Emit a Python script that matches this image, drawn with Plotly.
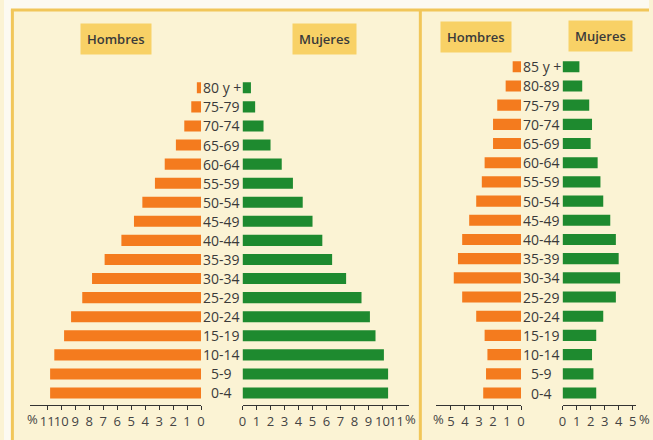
import plotly.graph_objects as go

W, H = 653, 440

# ---- data: left pyramid ----
ages_a = ["0-4", "5-9", "10-14", "15-19", "20-24", "25-29", "30-34", "35-39", "40-44",
          "45-49", "50-54", "55-59", "60-64", "65-69", "70-74", "75-79", "80 y +"]
men_a = [10.8, 10.8, 10.5, 9.8, 9.3, 8.5, 7.8, 6.9, 5.7, 4.8, 4.2, 3.3, 2.6, 1.8, 1.2, 0.7, 0.3]
women_a = [10.4, 10.4, 10.1, 9.5, 9.1, 8.5, 7.4, 6.4, 5.7, 5.0, 4.3, 3.6, 2.8, 2.0, 1.5, 0.9, 0.6]

# ---- data: right pyramid ----
ages_b = ["0-4", "5-9", "10-14", "15-19", "20-24", "25-29", "30-34", "35-39", "40-44",
          "45-49", "50-54", "55-59", "60-64", "65-69", "70-74", "75-79", "80-89", "85 y +"]
men_b = [2.7, 2.5, 2.4, 2.6, 3.2, 4.2, 4.8, 4.5, 4.2, 3.7, 3.2, 2.8, 2.6, 2.0, 2.0, 1.7, 1.1, 0.6]
women_b = [2.4, 2.2, 2.1, 2.4, 2.9, 3.8, 4.1, 4.0, 3.8, 3.4, 2.9, 2.7, 2.5, 2.0, 2.1, 1.9, 1.4, 1.2]

ticks_a = list(range(0, 12))
ticks_b = list(range(0, 6))

ORANGE = "#F47B1E"
GREEN = "#1E8A2F"
BG = "#FBF3D4"
FRAME = "#F1C659"
LABELBOX = "#F8D166"
TXT = "#3a3a3a"
FONT = "Open Sans"


def px(x):
    return x / W


def py(y):
    return 1 - y / H


fig = go.Figure()
fig.add_trace(go.Bar(x=men_a, y=ages_a, orientation="h", marker_color=ORANGE,
                     marker_line_width=0, xaxis="x", yaxis="y"))
fig.add_trace(go.Bar(x=women_a, y=ages_a, orientation="h", marker_color=GREEN,
                     marker_line_width=0, xaxis="x2", yaxis="y"))
fig.add_trace(go.Bar(x=men_b, y=ages_b, orientation="h", marker_color=ORANGE,
                     marker_line_width=0, xaxis="x3", yaxis="y2"))
fig.add_trace(go.Bar(x=women_b, y=ages_b, orientation="h", marker_color=GREEN,
                     marker_line_width=0, xaxis="x4", yaxis="y2"))

xcommon = dict(showgrid=False, zeroline=False, showline=True, linecolor="#333",
               linewidth=1.5, ticks="outside", ticklen=4, tickwidth=1, tickcolor="#333",
               tickfont=dict(family=FONT, size=13, color="#444"), fixedrange=True,
               tickangle=0, ticklabelstandoff=0)

fig.update_layout(
    width=W, height=H, margin=dict(l=0, r=0, t=0, b=0),
    paper_bgcolor=BG, plot_bgcolor="rgba(0,0,0,0)",
    showlegend=False, bargap=0.42,
    xaxis=dict(domain=[px(26), px(199.5)], range=[(199.5 - 26) / 14.15, 0],
               tickvals=ticks_a, anchor="y", **xcommon),
    xaxis2=dict(domain=[px(241.5), px(410)], range=[0, (410 - 241.5) / 14.17],
                tickvals=ticks_a, anchor="y", **xcommon),
    xaxis3=dict(domain=[px(437), px(523.5)], range=[(523.5 - 437) / 14.2, 0],
                tickvals=ticks_b, anchor="y2", **xcommon),
    xaxis4=dict(domain=[px(565.5), px(640)], range=[0, (640 - 565.5) / 14.2],
                tickvals=ticks_b, anchor="y2", **xcommon),
    yaxis=dict(domain=[py(404.5), py(76.3)], visible=False, fixedrange=True,
               categoryorder="array", categoryarray=ages_a, anchor="x"),
    yaxis2=dict(domain=[py(404.5), py(55.3)], visible=False, fixedrange=True,
                categoryorder="array", categoryarray=ages_b, anchor="x3"),
)

shapes = [
    # white strip outside the frame
    dict(type="rect", xref="paper", yref="paper", x0=0, x1=1, y0=py(9), y1=1,
         fillcolor="#FCFAF1", line_width=0, layer="below"),
    dict(type="rect", xref="paper", yref="paper", x0=0, x1=px(7), y0=0, y1=1,
         fillcolor="#FCFAF1", line_width=0, layer="below"),
    # frame lines
    dict(type="line", xref="paper", yref="paper", x0=px(7), x1=1, y0=py(10), y1=py(10),
         line=dict(color=FRAME, width=3)),
    dict(type="line", xref="paper", yref="paper", x0=px(8.5), x1=px(8.5), y0=0, y1=py(10),
         line=dict(color=FRAME, width=3)),
    dict(type="line", xref="paper", yref="paper", x0=px(421.5), x1=px(421.5), y0=0, y1=py(10),
         line=dict(color=FRAME, width=3)),
]
fig.update_layout(shapes=shapes)

ann = []
# category labels in the gaps
for a in ages_a:
    ann.append(dict(x=px(220.5), xref="paper", y=a, yref="y", text=a, showarrow=False,
                    font=dict(family=FONT, size=14, color=TXT), xanchor="center"))
for a in ages_b:
    ann.append(dict(x=px(544.5), xref="paper", y=a, yref="y2", text=a, showarrow=False,
                    font=dict(family=FONT, size=14, color=TXT), xanchor="center"))

# Hombres / Mujeres boxes
for txt, cx, cy in [("Hombres", 113, 39), ("Mujeres", 324, 39),
                    ("Hombres", 478, 36.5), ("Mujeres", 604, 36)]:
    ann.append(dict(x=px(cx), y=py(cy), xref="paper", yref="paper", text=txt,
                    showarrow=False, bgcolor=LABELBOX, borderpad=6,
                    font=dict(family=FONT, size=13, color=TXT, weight=600),
                    xanchor="center", yanchor="middle"))

# percent signs
for cx, anc in [(36, "right"), (404, "left"), (447.5, "right"), (640.5, "left")]:
    ann.append(dict(x=px(cx), y=py(419), xref="paper", yref="paper", text="%",
                    showarrow=False, font=dict(family=FONT, size=13, color="#444"),
                    xanchor=anc, yanchor="middle"))

fig.update_layout(annotations=ann)
fig.write_html("out.html", config={"displayModeBar": False, "staticPlot": True},
               post_script="document.body.style.margin='0';document.body.style.padding='0';")
